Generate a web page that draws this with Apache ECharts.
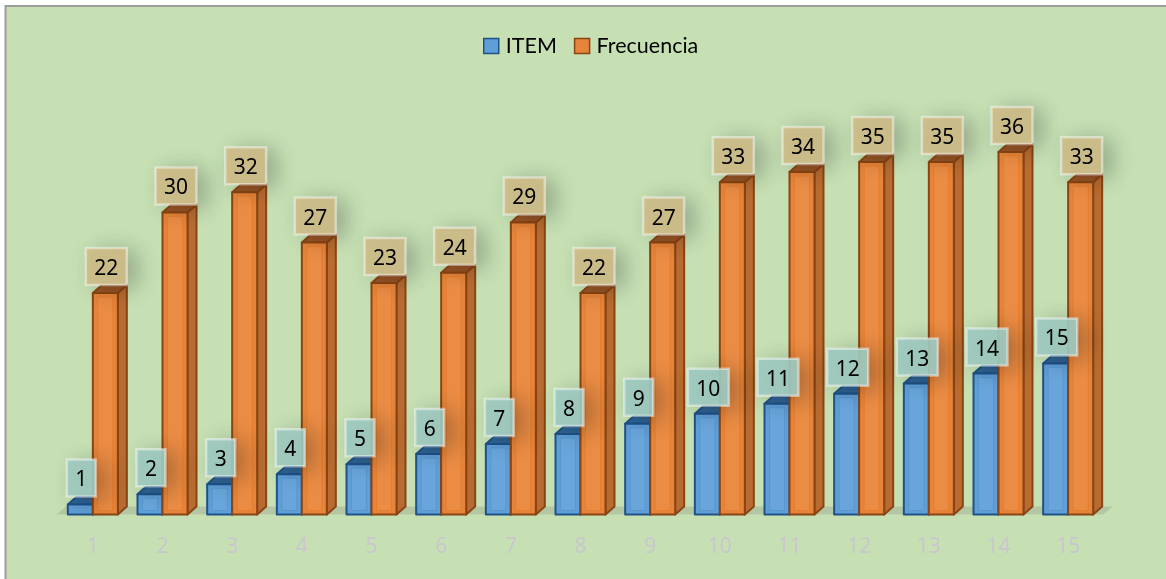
<!DOCTYPE html>
<html><head><meta charset="utf-8">
<style>html,body{margin:0;padding:0;background:#fff}#c{width:1166px;height:579px}</style>
<script src="https://cdn.jsdelivr.net/npm/echarts@6/dist/echarts.min.js"></script>
</head><body><div id="c"></div>
<script>
const categories = ['1','2','3','4','5','6','7','8','9','10','11','12','13','14','15'];
const itemValues = [1,2,3,4,5,6,7,8,9,10,11,12,13,14,15];
const freqValues = [22,30,32,27,23,24,29,22,27,33,34,35,35,36,33];

const FONT = 'Lato, Carlito, "Open Sans", sans-serif';
const NUM_FONT = '"Noto Sans", "Open Sans", sans-serif';
const BAR_W = 25, DX = 9, DY = 8;
const styles = {
  item: {front:'#5f9ed6', inner:'#69a5da', bevel:'#5898d0', edge:'#1f5288', top:'#2f6494', side:'#3f7ab0', box:'rgba(160,203,194,0.93)'},
  freq: {front:'#e5843a', inner:'#ea8c44', bevel:'#e67e2e', edge:'#8b4513', top:'#9a5628', side:'#b86c32', box:'rgba(208,190,138,0.93)'}
};
const OFFSET_ITEM = -25, OFFSET_FREQ = 0;

function barRenderer(st, offset) {
  return function (params, api) {
    const v = api.value(1);
    const base = api.coord([api.value(0), 0]);
    const topP = api.coord([api.value(0), v]);
    const x0 = base[0] + offset, x1 = x0 + BAR_W, yb = base[1], yt = topP[1];
    const line = {stroke: st.edge, lineWidth: 2, lineJoin:'round'};
    const innerH = Math.max(0, yb - yt - 8);
    return {
      type: 'group',
      children: [
        {type:'polygon', shape:{points:[[x1,yt],[x1+DX,yt-DY],[x1+DX,yb-DY],[x1,yb]]}, style:Object.assign({fill:st.side},line)},
        {type:'polygon', shape:{points:[[x0,yt],[x0+DX,yt-DY],[x1+DX,yt-DY],[x1,yt]]}, style:Object.assign({fill:st.top},line)},
        {type:'rect', shape:{x:x0,y:yt,width:BAR_W,height:yb-yt}, style:Object.assign({fill:st.front},line)},
        {type:'rect', shape:{x:x0+5,y:yt+4,width:BAR_W-10,height:innerH}, style:{fill:st.inner, stroke:st.bevel, lineWidth:1}}
      ]
    };
  };
}

function labelRenderer(st, offset) {
  return function (params, api) {
    const v = api.value(1);
    const base = api.coord([api.value(0), 0]);
    const yt = api.coord([api.value(0), v])[1];
    const x0 = base[0] + offset;
    const w = String(v).length > 1 ? 41 : 29, h = 37;
    const cx = x0 + BAR_W / 2 + 1, boxBottom = yt - 8;
    return {
      type:'group',
      children:[
        {type:'rect', shape:{x:cx-w/2,y:boxBottom-h,width:w,height:h},
          style:{fill:st.box, stroke:'rgba(255,255,255,0.45)', lineWidth:2.5, shadowBlur:22, shadowColor:'rgba(0,0,0,0.28)', shadowOffsetX:9, shadowOffsetY:3}},
        {type:'text', x:cx, y:boxBottom-h/2+2.5, z2:5,
          style:{text:String(v), font:'21px '+NUM_FONT, fill:'#000', align:'center', verticalAlign:'middle'}}
      ]
    };
  };
}

function floorRenderer(params, api) {
  const c = params.coordSys;
  const b = api.coord([0, 0])[1];
  return {type:'polygon', shape:{points:[[c.x-2,b],[c.x+8,b-8],[c.x+c.width+10,b-8],[c.x+c.width,b]]}, style:{fill:'#b4c7a4'}};
}

const pairs = vals => categories.map((c, i) => [i, vals[i]]);
const chart = echarts.init(document.getElementById('c'), null, {renderer:'canvas'});
chart.setOption({
  animation:false,
  backgroundColor:'#fff',
  graphic:[
    {type:'rect', silent:true, z:-10, shape:{x:6,y:6,width:1160,height:573}, style:{fill:'#c6e0b4'}},
    {type:'polyline', silent:true, z:-9, shape:{points:[[5.5,579],[5.5,6],[1166,6]]}, style:{fill:null, stroke:'#9c9c9c', lineWidth:2}}
  ],
  legend:{top:30, left:478, itemWidth:15, itemHeight:15, itemGap:17, icon:'rect',
    textStyle:{fontFamily:FONT, fontSize:21.5, color:'#000', padding:[0,0,0,2]},
    data:[{name:'ITEM', itemStyle:{color:styles.item.front,borderColor:styles.item.edge,borderWidth:1.5}},
          {name:'Frecuencia', itemStyle:{color:styles.freq.front,borderColor:styles.freq.edge,borderWidth:1.5}}]},
  grid:{left:58, right:63, top:11, bottom:64.5},
  xAxis:{type:'category', data:categories, axisLine:{show:false}, axisTick:{show:false},
    axisLabel:{margin:22, fontFamily:NUM_FONT, fontSize:21, color:'#c9c6cf'}},
  yAxis:{type:'value', min:0, max:50, show:false},
  series:[
    {type:'custom', name:'floor', silent:true, z:1, data:[[0,0]], renderItem:floorRenderer},
    {type:'custom', name:'ITEM', z:2, itemStyle:{color:styles.item.front}, data:pairs(itemValues), renderItem:barRenderer(styles.item,OFFSET_ITEM), encode:{x:0,y:1}},
    {type:'custom', name:'Frecuencia', z:3, itemStyle:{color:styles.freq.front}, data:pairs(freqValues), renderItem:barRenderer(styles.freq,OFFSET_FREQ), encode:{x:0,y:1}},
    {type:'custom', name:'freqLabels', silent:true, z:4, data:pairs(freqValues), renderItem:labelRenderer(styles.freq,OFFSET_FREQ)},
    {type:'custom', name:'itemLabels', silent:true, z:5, data:pairs(itemValues), renderItem:labelRenderer(styles.item,OFFSET_ITEM)}
  ]
});
</script></body></html>
